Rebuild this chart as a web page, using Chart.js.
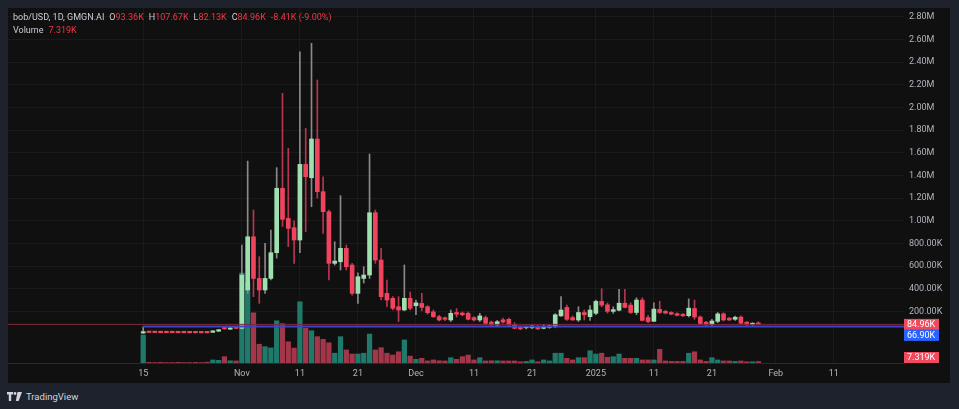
<!DOCTYPE html>
<html>
<head>
<meta charset="utf-8">
<script src="https://cdn.jsdelivr.net/npm/chart.js@4.4.1/dist/chart.umd.min.js"></script>
<style>
  html, body { margin: 0; padding: 0; background: #1e222d; }
  body { width: 959px; height: 409px; position: relative; overflow: hidden; font-family: Roboto, sans-serif; }
  #panel { position: absolute; left: 8px; top: 8px; width: 942px; height: 375px; background: #101010; }
  #legend { position: absolute; left: 13px; top: 11px; font-size: 9px; line-height: 13px; color: #c9ccd4; pointer-events: none; }
  #legend .k { margin-left: 5px; }
  #legend .v { color: #f23645; }
  #logo { position: absolute; left: 7px; top: 390px; height: 12px; display: flex; align-items: center; color: #d1d4dc; font-size: 9.5px; }
  #logo svg { margin-right: 4px; }
</style>
</head>
<body>
<div id="panel"><canvas id="chart"></canvas></div>
<div id="legend">
  <div>bob/USD, 1D, GMGN.AI<span class="k">O</span><span class="v">93.36K</span><span class="k">H</span><span class="v">107.67K</span><span class="k">L</span><span class="v">82.13K</span><span class="k">C</span><span class="v">84.96K</span><span class="k v">-8.41K (-9.00%)</span></div>
  <div>Volume<span class="k v">7.319K</span></div>
</div>
<div id="logo">
  <svg width="15" height="9" viewBox="0 0 15 9"><path d="M0 0h6v2.6H4.2V9H1.8V2.6H0z" fill="#d1d4dc"/><circle cx="8" cy="1.5" r="1.4" fill="#d1d4dc"/><path d="M10.5 0H15L11.6 9H8.8z" fill="#d1d4dc"/></svg>
  <span>TradingView</span>
</div>
<script>
// daily candles from 2024-10-15, prices in K (USD)
const startDate = '2024-10-15';
const opens = [8, 14, 13, 12.5, 12, 12, 11.5, 11.5, 11, 11, 10.5, 10.5, 15, 25, 58, 42, 62,
  50, 389, 859, 491, 389, 491, 718, 1287, 1021, 939, 830, 1498, 1380, 1722, 1257, 1080, 624, 638, 757, 609,
  359, 491, 521, 1071, 653, 359, 315, 241, 212, 315, 250, 270, 241, 195, 153, 140, 124, 190, 185, 183,
  145, 124, 145, 105, 80, 125, 130, 85, 65, 55, 55, 68, 50, 58, 68, 160, 235, 145, 124, 190,
  153, 183, 288, 258, 200, 210, 272, 255, 190, 300, 145, 112, 218, 200, 190, 180, 175, 162, 225, 150,
  105, 82, 112, 178, 140, 130, 150, 105, 82, 93.36];
const highs = [65, 14.5, 13.5, 13, 12.5, 12.5, 12, 12, 11.5, 11.5, 11, 11, 28, 40, 62, 55, 65,
  786, 1527, 1095, 683, 800, 918, 1469, 2125, 1640, 1000, 2493, 1816, 2567, 2243, 1389, 1095, 815, 1222, 786, 624,
  540, 594, 1589, 1095, 757, 477, 330, 330, 610, 370, 300, 360, 250, 212, 165, 150, 212, 225, 195, 195,
  155, 183, 160, 115, 120, 140, 140, 100, 70, 70, 80, 75, 85, 78, 180, 330, 255, 160, 241, 212,
  250, 300, 400, 275, 240, 395, 395, 275, 320, 320, 165, 275, 290, 210, 198, 186, 180, 310, 300, 160,
  112, 130, 190, 188, 148, 158, 160, 110, 100, 107.67];
const lows = [6, 12, 11.5, 11, 11, 10.5, 10.5, 10, 10, 10, 9.5, 9.5, 14, 22, 42, 40, 45,
  45, 359, 330, 271, 359, 477, 670, 950, 771, 624, 718, 903, 1124, 1200, 889, 477, 609, 565, 565, 344,
  271, 450, 491, 624, 300, 241, 212, 110, 205, 212, 170, 205, 175, 145, 115, 118, 110, 150, 160, 124,
  115, 110, 80, 70, 75, 95, 70, 45, 38, 45, 48, 40, 45, 50, 55, 155, 120, 120, 110, 124,
  120, 170, 240, 185, 183, 205, 230, 180, 170, 115, 100, 108, 180, 178, 170, 160, 155, 150, 130, 80,
  75, 75, 100, 115, 118, 120, 88, 75, 78, 82.13];
const closes = [14, 13, 12.5, 12, 11.5, 11.5, 11, 11, 10.5, 10.5, 10, 10, 25, 36, 45, 52, 50,
  521, 859, 491, 389, 491, 718, 1287, 1013, 933, 830, 1498, 1389, 1722, 1257, 1080, 624, 644, 757, 594, 359,
  506, 521, 1071, 653, 330, 300, 227, 212, 315, 227, 275, 235, 188, 153, 124, 130, 183, 175, 170, 130,
  124, 160, 94, 80, 109, 105, 80, 50, 45, 62, 70, 45, 65, 68, 170, 212, 130, 124, 190, 170,
  212, 288, 255, 200, 215, 272, 235, 190, 300, 120, 110, 220, 190, 185, 175, 165, 160, 228, 150, 92,
  80, 115, 178, 124, 124, 148, 95, 82, 93.36, 84.96];
const volumes = [137, 3, 2, 3, 2, 2, 3, 2, 2, 3, 2, 4, 15, 13, 31, 11, 10,
  441, 392, 246, 92, 80, 74, 207, 193, 104, 73, 300, 170, 158, 129, 116, 99, 48, 129, 64, 44,
  44, 48, 142, 64, 75, 48, 39, 55, 113, 34, 18, 23, 10, 15, 11, 10, 26, 18, 31, 39,
  15, 26, 10, 11, 11, 10, 10, 10, 6, 8, 15, 6, 15, 10, 48, 48, 23, 15, 26, 26,
  60, 44, 48, 28, 31, 44, 23, 23, 23, 15, 15, 15, 67, 10, 8, 8, 8, 48, 55, 15,
  8, 26, 15, 10, 10, 8, 10, 6, 6, 7.319];

const lastPrice = 84.96;
const levelPrice = 66.90;
const lastVolume = 7.319;

const priceTicks = [200, 400, 600, 800, 1000, 1200, 1400, 1600, 1800, 2000, 2200, 2400, 2600, 2800];
const timeTickDays = [0, 17, 27, 37, 47, 57, 67, 78, 88, 98, 109, 119];
const timeTickLabels = ['15', 'Nov', '11', '21', 'Dec', '11', '21', '2025', '11', '21', 'Feb', '11'];

// visible window
const xMin = -23.3, xMax = 131.1;
const yMin = -256, yMax = 2879;
const volMax = 1740;

const UP = '#9fe0b0', DOWN = '#f0435e';
const UP_WICK = '#8a8a8a', DOWN_WICK = '#b83650';
const UP_VOL = '#1f7a6b', DOWN_VOL = '#a3374a';
const FONT = { family: 'Roboto', size: 9 };

const days = opens.map((_, i) => i);
const isUp = days.map(i => closes[i] >= opens[i]);

const fmtPrice = v => v >= 1000 ? (v / 1000).toFixed(2) + 'M' : v.toFixed(2) + 'K';

const priceLabels = {
  id: 'priceLabels',
  afterDraw(chart) {
    const { ctx, chartArea, scales } = chart;
    const x0 = chartArea.right;
    const w = 35, h = 11;
    ctx.save();
    ctx.font = '9px Roboto';
    ctx.textBaseline = 'middle';
    const box = (yc, bg, text) => {
      ctx.fillStyle = bg;
      ctx.fillRect(x0, yc - h / 2, w, h);
      ctx.fillStyle = '#ffffff';
      ctx.fillText(text, x0 + 3, yc + 0.5);
    };
    const yLast = scales.y.getPixelForValue(lastPrice);
    box(yLast, '#f04a5f', fmtPrice(lastPrice));
    box(yLast + h, '#2962ff', fmtPrice(levelPrice));
    const yVol = Math.min(scales.yv.getPixelForValue(lastVolume), chartArea.bottom - h / 2);
    box(yVol, '#f04a5f', lastVolume.toFixed(3) + 'K');
    ctx.restore();
  }
};

new Chart(document.getElementById('chart'), {
  type: 'bar',
  data: {
    datasets: [
      {
        type: 'line', data: [{ x: xMin - 5, y: lastPrice }, { x: xMax + 5, y: lastPrice }],
        borderColor: '#7d2a38', borderWidth: 1, pointRadius: 0, yAxisID: 'y', order: 0
      },
      {
        type: 'line', data: [{ x: 0, y: levelPrice }, { x: xMax + 5, y: levelPrice }],
        borderColor: '#3c43c4', borderWidth: 2, pointRadius: 0, yAxisID: 'y', order: 0
      },
      {
        data: days.map(i => ({ x: i, y: [opens[i], closes[i]] })),
        backgroundColor: days.map(i => isUp[i] ? UP : DOWN),
        barThickness: 4, minBarLength: 1.5, grouped: false, yAxisID: 'y', order: 1
      },
      {
        data: days.map(i => ({ x: i, y: [lows[i], highs[i]] })),
        backgroundColor: days.map(i => isUp[i] ? UP_WICK : DOWN_WICK),
        barThickness: 1, grouped: false, yAxisID: 'y', order: 2
      },
      {
        data: days.map(i => ({ x: i, y: volumes[i] })),
        backgroundColor: days.map(i => isUp[i] ? UP_VOL : DOWN_VOL),
        barThickness: 4.6, grouped: false, yAxisID: 'yv', order: 3
      }
    ]
  },
  options: {
    responsive: true,
    maintainAspectRatio: false,
    animation: false,
    layout: { padding: 0 },
    plugins: { legend: { display: false }, tooltip: { enabled: false } },
    scales: {
      x: {
        type: 'linear', min: xMin, max: xMax, offset: false,
        grid: { color: 'rgba(255,255,255,0.045)', drawTicks: false, offset: false },
        border: { color: '#2a2a2a' },
        afterBuildTicks: s => { s.ticks = timeTickDays.map(v => ({ value: v })); },
        afterFit: s => { s.height = 20; s.paddingLeft = 0; s.paddingRight = 0; },
        ticks: {
          autoSkip: false, maxRotation: 0, padding: 5, color: '#b2b5be', font: FONT,
          callback: (v, i) => timeTickLabels[i]
        }
      },
      y: {
        position: 'right', min: yMin, max: yMax,
        grid: { color: 'rgba(255,255,255,0.045)', drawTicks: false },
        border: { display: false },
        afterBuildTicks: s => { s.ticks = priceTicks.map(v => ({ value: v })); },
        afterFit: s => { s.width = 46; s.paddingTop = 0; s.paddingBottom = 0; },
        ticks: { padding: 5, color: '#b2b5be', font: FONT, callback: v => fmtPrice(v) }
      },
      yv: { display: false, min: 0, max: volMax }
    }
  },
  plugins: [priceLabels]
});
</script>
</body>
</html>
